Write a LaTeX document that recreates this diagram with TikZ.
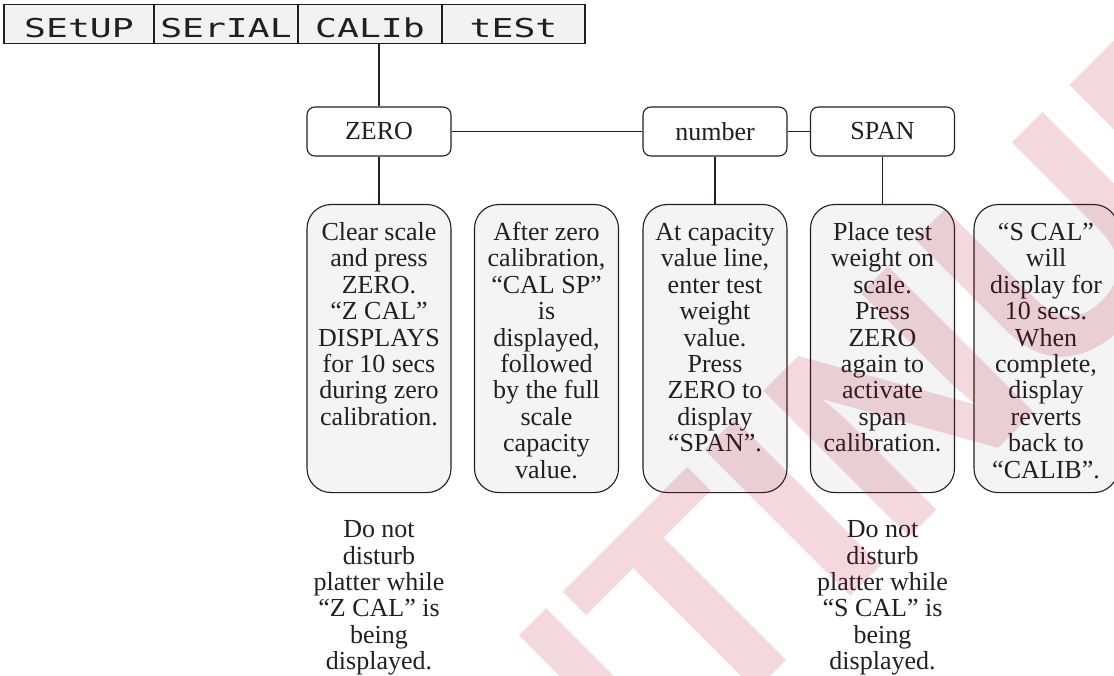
\documentclass[tikz,border=0pt]{standalone}
\usepackage{graphicx}
\usepackage{fontspec}
\setmainfont{Liberation Serif}
\newfontfamily\segfont{DejaVu Sans Mono}
\newfontfamily\wmfont{Liberation Sans}
\definecolor{ink}{HTML}{231F20}
\definecolor{boxfill}{HTML}{F4F4F4}
\definecolor{barfill}{HTML}{F2F2F2}
\definecolor{wmred}{RGB}{175,0,30}
\newcommand{\segtxt}[1]{\scalebox{1.4}[1]{#1}}
\newcommand{\boxtxt}[1]{\parbox[c][288pt][t]{144pt}{\centering\rule{0pt}{36pt}#1}}
\begin{document}
\begin{tikzpicture}[x=1pt,y=-1pt,
  every node/.style={text=ink},
  segcell/.style={draw=ink, line width=1.1pt, fill=barfill, minimum height=39pt,
    inner sep=0pt, text height=28pt, text depth=0pt,
    font=\segfont\fontsize{26}{26}\selectfont},
  smallbox/.style={draw=ink, line width=1.1pt, fill=white, rounded corners=8pt,
    minimum width=144pt, minimum height=49pt, inner sep=0pt,
    font=\fontsize{26}{26}\selectfont},
  bigbox/.style={draw=ink, line width=1.1pt, fill=boxfill, rounded corners=24pt,
    inner sep=0pt, anchor=north, font=\fontsize{26}{26.4}\selectfont},
  note/.style={inner sep=0pt, anchor=north, align=center,
    font=\fontsize{26}{26.4}\selectfont},
  conn/.style={draw=ink, line width=1.1pt},
  wmstyle/.style={rotate=45, anchor=base, inner sep=0pt, text=wmred, text opacity=0.15,
    font=\wmfont\bfseries\fontsize{300}{300}\selectfont}
]
\useasboundingbox (0,0) rectangle (1114,676);

% top menu bar
\node[segcell, minimum width=150pt] (setup)  at (79,24)    {\segtxt{SEtUP}};
\node[segcell, minimum width=144pt] (serial) at (226,24)   {\segtxt{SErIAL}};
\node[segcell, minimum width=144pt] (calib)  at (370,24)   {\segtxt{CALIb}};
\node[segcell, minimum width=143pt] (test)   at (513.5,24) {\segtxt{tESt}};

% second row
\node[smallbox] (zero)   at (379,131.5) {ZERO};
\node[smallbox] (number) at (715,131.5) {number};
\node[smallbox] (span)   at (882.5,131.5) {SPAN};

% description boxes
\node[bigbox] (b1) at (379,204) {\boxtxt{Clear scale\\and press\\ZERO.\\``Z CAL''\\DISPLAYS\\for 10 secs\\during zero\\calibration.}};
\node[bigbox] (b2) at (546.5,204) {\boxtxt{After zero\\calibration,\\``CAL SP''\\is\\displayed,\\followed\\by the full\\scale\\capacity\\value.}};
\node[bigbox] (b3) at (715,204) {\boxtxt{At capacity\\value line,\\enter test\\weight\\value.\\Press\\ZERO to\\display\\``SPAN''.}};
\node[bigbox] (b4) at (882.5,204) {\boxtxt{Place test\\weight on\\scale.\\Press\\ZERO\\again to\\activate\\span\\calibration.}};
\node[bigbox] (b5) at (1046,204) {\boxtxt{``S CAL''\\will\\display for\\10 secs.\\When\\complete,\\display\\reverts\\back to\\``CALIB''.}};

% notes
\node[note] (n1) at (379,517.5) {\rule{0pt}{20pt}Do not\\disturb\\platter while\\``Z CAL'' is\\being\\displayed.};
\node[note] (n2) at (882.5,517.5) {\rule{0pt}{20pt}Do not\\disturb\\platter while\\``S CAL'' is\\being\\displayed.};

% connectors
\draw[conn] (calib.south -| zero.north) -- (zero.north);
\draw[conn] (zero.east) -- (number.west);
\draw[conn] (number.east) -- (span.west);
\draw[conn] (zero.south) -- (b1.north);
\draw[conn] (number.south) -- (b3.north);
\draw[conn] (span.south) -- (b4.north);

% watermark
\begin{scope}
\clip (0,0) rectangle (1114,676);
\node[wmstyle] (wm) at (689,758) {DISCONTINUED};
\end{scope}
\end{tikzpicture}
\end{document}
